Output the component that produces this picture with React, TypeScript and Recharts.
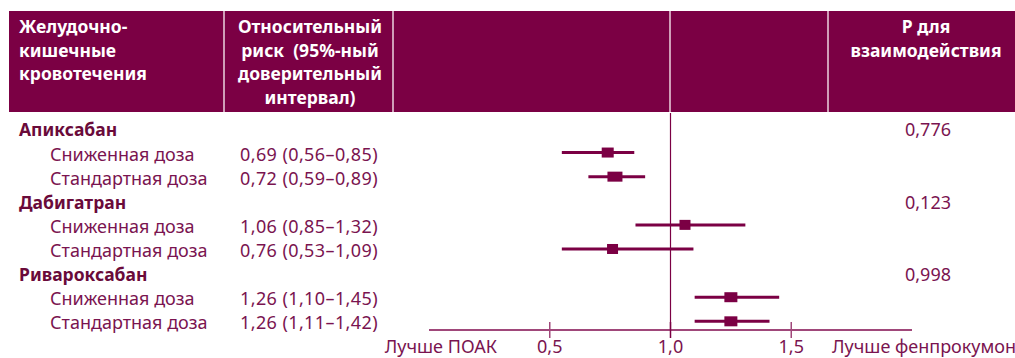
import React from 'react';
import { ScatterChart, Scatter, XAxis, YAxis, ErrorBar, ReferenceLine } from 'recharts';

// ---- data ----
const rowLabels = ['Апиксабан', 'Сниженная доза', 'Стандартная доза', 'Дабигатран', 'Сниженная доза', 'Стандартная доза', 'Ривароксабан', 'Сниженная доза', 'Стандартная доза'];
const rowIsGroup = [true, false, false, true, false, false, true, false, false];
const ciLabels = ['', '0,69 (0,56–0,85)', '0,72 (0,59–0,89)', '', '1,06 (0,85–1,32)', '0,76 (0,53–1,09)', '', '1,26 (1,10–1,45)', '1,26 (1,11–1,42)'];
const pLabels = ['0,776', '', '', '0,123', '', '', '0,998', '', ''];
const rowIndex = [0, 1, 2, 3, 4, 5, 6, 7, 8];

const estimateRows = [1, 2, 4, 5, 7, 8];
const estimates = [0.74, 0.77, 1.06, 0.76, 1.25, 1.25];
const lowerCI = [0.55, 0.66, 0.855, 0.55, 1.10, 1.10];
const upperCI = [0.85, 0.895, 1.31, 1.095, 1.45, 1.41];
const squareWidths = [12, 15, 11, 11, 13, 13];

const xTicks = [0.5, 1.0, 1.5];
const xTickLabels = ['0,5', '1,0', '1,5'];
const axisLeftLabel = 'Лучше ПОАК';
const axisRightLabel = 'Лучше фенпрокумон';

const headerCol1 = ['Желудочно-', 'кишечные', 'кровотечения'];
const headerCol2 = ['Относительный', 'риск  (95%-ный', 'доверительный', 'интервал)'];
const headerCol3 = ['Р для', 'взаимодействия'];

// ---- styles ----
const MAROON = '#7b0044';
const TEXT = '#7a1450';
const BOLD = '#6a0a3a';
const AXIS = '#a0487a';
const SEP = '#edd3df';
const FONT = '"Noto Sans", "Open Sans", sans-serif';
const FS = 18;
const HFS = 17.5;

const data = estimateRows.map((r, i) => ({
  x: estimates[i],
  y: r,
  err: [estimates[i] - lowerCI[i], upperCI[i] - estimates[i]],
  w: squareWidths[i],
}));

const YTick = (props: any) => {
  const { y, payload } = props;
  const i = payload.value as number;
  const by = y + 8;
  return (
    <g>
      <text x={rowIsGroup[i] ? 19 : 50} y={by} fill={rowIsGroup[i] ? BOLD : TEXT} fontWeight={rowIsGroup[i] ? 700 : 400} fontSize={rowIsGroup[i] ? 17.5 : FS} fontFamily={FONT}>
        {rowLabels[i]}
      </text>
      {ciLabels[i] && (
        <text x={240} y={by} fill={TEXT} fontSize={FS} fontFamily={FONT} letterSpacing={0.4}>{ciLabels[i]}</text>
      )}
      {pLabels[i] && (
        <text x={951} y={by} textAnchor="end" fill={TEXT} fontSize={FS} fontFamily={FONT}>{pLabels[i]}</text>
      )}
    </g>
  );
};

const XTick = (props: any) => {
  const { x, y, index } = props;
  return (
    <g>
      <line x1={x} x2={x} y1={y - 8} y2={y + 8} stroke={index === 1 ? MAROON : AXIS} strokeWidth={1.5} />
      <text x={x} y={y + 23} textAnchor="middle" fill={TEXT} fontSize={FS} fontFamily={FONT}>{xTickLabels[index]}</text>
    </g>
  );
};

const Square = (props: any) => {
  const { cx, cy, payload } = props;
  const w = payload.w;
  return <rect x={cx - w / 2} y={cy - 5} width={w} height={10} fill={MAROON} />;
};

const headerText = (lines: string[], x: number, anchor: 'start' | 'middle') =>
  lines.map((t, i) => (
    <text key={t} x={x} y={33 + i * 23.5} textAnchor={anchor} fill="#ffffff" fontWeight={700} fontSize={HFS} fontFamily={FONT} style={{ whiteSpace: 'pre' }}>
      {t}
    </text>
  ));

export default function App() {
  return (
    <div style={{ position: 'absolute', left: 0, top: 0, width: 1015, height: 358, background: '#fff' }}>
      <ScatterChart width={1015} height={358} margin={{ top: 113, right: 103, bottom: 0, left: 428 }}>
        <rect x={9} y={11} width={1006} height={101} fill={MAROON} />
        {[224, 393, 670, 828].map((sx) => (
          <line key={sx} x1={sx} x2={sx} y1={11} y2={112} stroke={SEP} strokeWidth={1.5} />
        ))}
        {headerText(headerCol1, 19, 'start')}
        {headerText(headerCol2, 310, 'middle')}
        {headerText(headerCol3, 926, 'middle')}
        <text x={497} y={353} textAnchor="end" fill={TEXT} fontSize={FS} fontFamily={FONT}>{axisLeftLabel}</text>
        <text x={832} y={353} fill={TEXT} fontSize={FS} fontFamily={FONT}>{axisRightLabel}</text>
        <XAxis
          type="number"
          dataKey="x"
          domain={[0, 2]}
          ticks={xTicks}
          height={28}
          tickSize={0}
          tickMargin={0}
          tickLine={false}
          axisLine={{ stroke: AXIS, strokeWidth: 2 }}
          tick={<XTick />}
          allowDataOverflow
        />
        <YAxis
          type="number"
          dataKey="y"
          domain={[-0.64, 8.36]}
          ticks={rowIndex}
          reversed
          width={1}
          axisLine={false}
          tickLine={false}
          tick={<YTick />}
          interval={0}
          allowDataOverflow
        />
        <ReferenceLine x={1} stroke={MAROON} strokeWidth={1.2} />
        <Scatter data={data} shape={<Square />} isAnimationActive={false}>
          <ErrorBar dataKey="err" direction="x" width={0} stroke={MAROON} strokeWidth={3} />
        </Scatter>
      </ScatterChart>
    </div>
  );
}
